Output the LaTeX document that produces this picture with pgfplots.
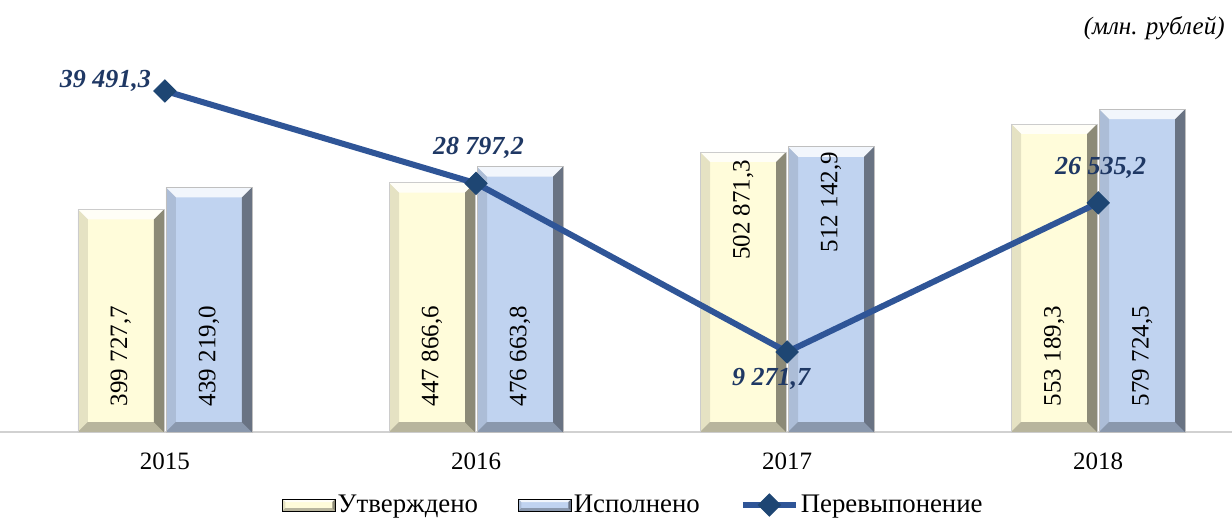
\documentclass[border=0pt]{standalone}
\usepackage{fontspec}
\setmainfont{Liberation Serif}
\usepackage{pgfplots}
\pgfplotsset{compat=1.18}

\definecolor{cream}{RGB}{255,252,218}
\definecolor{lblue}{RGB}{192,211,240}
\definecolor{linecol}{RGB}{47,85,151}
\definecolor{markcol}{RGB}{30,70,115}
\definecolor{labcol}{RGB}{31,56,100}

% bevelled bar face, like the Excel "relief" effect
\def\pb{path picture bounding box}
\tikzset{bv/.style={path picture={}, draw=none},
  bevel/.style={path picture={
  \fill[bv,white,opacity=.8] (\pb.north west) -- (\pb.north east) -- ([shift={(-#1,-#1)}]\pb.north east) -- ([shift={(#1,-#1)}]\pb.north west) -- cycle;
  \fill[bv,black,opacity=.45] (\pb.north east) -- (\pb.south east) -- ([shift={(-#1,#1)}]\pb.south east) -- ([shift={(-#1,-#1)}]\pb.north east) -- cycle;
  \fill[bv,black,opacity=.28] (\pb.south east) -- (\pb.south west) -- ([shift={(#1,#1)}]\pb.south west) -- ([shift={(-#1,#1)}]\pb.south east) -- cycle;
  \fill[bv,black,opacity=.1] (\pb.south west) -- (\pb.north west) -- ([shift={(#1,-#1)}]\pb.north west) -- ([shift={(#1,#1)}]\pb.south west) -- cycle;
}}, bevel/.default=5pt}

\pgfplotsset{
  barleg/.style={legend image code/.code={\fill[##1] (0pt,-3pt) rectangle (26.5pt,3pt);}},
  lineleg/.style={legend image code/.code={\draw[##1, mark repeat=2, mark phase=2]
    plot coordinates {(0pt,0pt) (13.25pt,0pt) (26.5pt,0pt)};}},
  cb/.style={ybar, bar width=43pt, bar shift=-22pt, fill=cream, draw=black!20,
    line width=0.3pt, bevel, forget plot},
  bb/.style={ybar, bar width=43pt, bar shift=22pt, fill=lblue, draw=black!25,
    line width=0.3pt, bevel, forget plot},
}

\begin{document}
\begin{tikzpicture}[font=\fontsize{12.5}{15}\selectfont]
\path[use as bounding box] (0,-44.5pt) rectangle (616pt,216pt);

\begin{axis}[
  scale only axis, width=616pt, height=216pt,
  xmin=-0.53, xmax=3.43, ymin=0, ymax=775600,
  axis x line*=bottom, axis y line=none,
  axis line style={draw=black!18, line width=0.8pt},
  xtick={0,1,2,3}, xticklabels={2015,2016,2017,2018},
  major tick length=0,
  xticklabel style={yshift=-7pt},
  /pgf/number format/assume math mode=true,
  clip=false,
]
% Утверждено
\addplot[cb] coordinates {(0,399727.7)};
\addplot[cb] coordinates {(1,447866.6)};
\addplot[cb] coordinates {(2,502871.3)};
\addplot[cb] coordinates {(3,553189.3)};
% Исполнено
\addplot[bb] coordinates {(0,439219.0)};
\addplot[bb] coordinates {(1,476663.8)};
\addplot[bb] coordinates {(2,512142.9)};
\addplot[bb] coordinates {(3,579724.5)};

\node[rotate=90] at ([xshift=-22pt]axis cs:0,136450) {399 727,7};
\node[rotate=90] at ([xshift=22pt]axis cs:0,136450) {439 219,0};
\node[rotate=90] at ([xshift=-22pt]axis cs:1,136450) {447 866,6};
\node[rotate=90] at ([xshift=22pt]axis cs:1,136450) {476 663,8};
\node[rotate=90] at ([xshift=-22pt]axis cs:2,398600) {502 871,3};
\node[rotate=90] at ([xshift=22pt]axis cs:2,412900) {512 142,9};
\node[rotate=90] at ([xshift=-22pt]axis cs:3,136450) {553 189,3};
\node[rotate=90] at ([xshift=22pt]axis cs:3,136450) {579 724,5};

\node[anchor=north east, inner sep=0pt, font=\fontsize{12.5}{15}\selectfont\itshape]
  at ([shift={(-3.5pt,-8pt)}]rel axis cs:1,1) {(млн. рублей)};
\end{axis}

\begin{axis}[
  scale only axis, width=616pt, height=216pt,
  xmin=-0.53, xmax=3.43, ymin=0, ymax=50017,
  hide axis, clip=false,
  legend style={at={(0.514,-0.169)}, anchor=center, draw=none, fill=none,
    legend columns=3, font=\fontsize{13.4}{15}\selectfont,
    /tikz/every even column/.append style={column sep=19pt},
    nodes={inner sep=1pt}},
]
\addlegendimage{barleg, fill=cream, bevel=1.5pt}
\addlegendentry{Утверждено}
\addlegendimage{barleg, fill=lblue, bevel=1.5pt}
\addlegendentry{Исполнено}
\addplot[linecol, line width=3pt, mark=square*, mark size=3.9pt,
  mark options={rotate=45, fill=markcol, draw=markcol, line width=0.5pt},
  lineleg]
  coordinates {(0,39491.3) (1,28797.2) (2,9271.7) (3,26535.2)};
\addlegendentry{Перевыпонение}

\node[labcol, font=\fontsize{13}{15}\selectfont\bfseries\itshape, anchor=east]
  at ([shift={(-3.5pt,5pt)}]axis cs:0,39491.3) {39 491,3};
\node[labcol, font=\fontsize{13}{15}\selectfont\bfseries\itshape]
  at ([shift={(1.25pt,17.5pt)}]axis cs:1,28797.2) {28 797,2};
\node[labcol, font=\fontsize{13}{15}\selectfont\bfseries\itshape]
  at ([shift={(-8pt,-13.5pt)}]axis cs:2,9271.7) {9 271,7};
\node[labcol, font=\fontsize{13}{15}\selectfont\bfseries\itshape]
  at ([shift={(1.25pt,17.5pt)}]axis cs:3,26535.2) {26 535,2};
\end{axis}
\end{tikzpicture}
\end{document}
